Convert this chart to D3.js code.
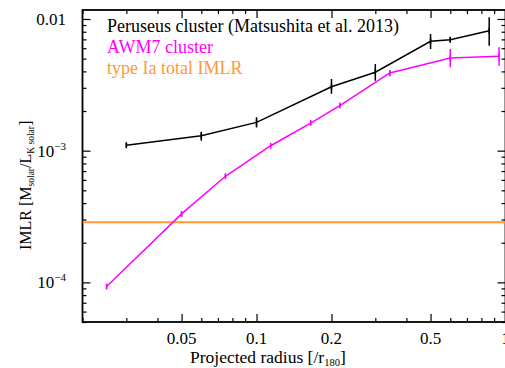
<!DOCTYPE html>
<html>
<head>
<meta charset="utf-8">
<script src="https://cdn.jsdelivr.net/npm/d3@7"></script>
<style>
  body { margin: 0; background: #fff; }
  text { font-family: "Liberation Serif", "Times New Roman", serif; }
</style>
</head>
<body>
<script>
// Perseus cluster (Matsushita et al. 2013)
const perseusR = [0.03, 0.06, 0.1, 0.2, 0.3, 0.5, 0.6, 0.86]
const perseusIMLR = [1.10e-3, 1.30e-3, 1.64e-3, 3.06e-3, 3.94e-3, 6.77e-3, 6.96e-3, 8.15e-3]
const perseusLo = [1.06e-3, 1.19e-3, 1.50e-3, 2.70e-3, 3.40e-3, 5.92e-3, 6.65e-3, 6.27e-3]
const perseusHi = [1.15e-3, 1.39e-3, 1.79e-3, 3.50e-3, 4.55e-3, 7.68e-3, 7.26e-3, 10.3e-3]

// AWM7 cluster
const awm7R = [0.025, 0.05, 0.075, 0.114, 0.165, 0.216, 0.343, 0.6, 0.942]
const awm7IMLR = [9.3e-5, 3.31e-4, 6.39e-4, 1.09e-3, 1.62e-3, 2.20e-3, 3.89e-3, 5.06e-3, 5.21e-3]
const awm7Lo = [8.9e-5, 3.18e-4, 6.2e-4, 1.06e-3, 1.57e-3, 2.13e-3, 3.67e-3, 4.30e-3, 4.42e-3]
const awm7Hi = [9.7e-5, 3.44e-4, 6.6e-4, 1.13e-3, 1.68e-3, 2.28e-3, 4.10e-3, 5.92e-3, 6.10e-3]

// type Ia total IMLR
const typeIaIMLR = 2.86e-4

const xTicks = [0.05, 0.1, 0.2, 0.5, 1]
const xTickLabels = ['0.05', '0.1', '0.2', '0.5', '1']
const yTicks = [1e-4, 1e-3, 1e-2]
const yTickBase = ['10', '10', '0.01']
const yTickExp = ['\u22124', '\u22123', '']

const legendLabels = ['Peruseus cluster (Matsushita et al. 2013)', 'AWM7 cluster', 'type Ia total IMLR']
const colors = ['#000000', '#ff00ff', '#ff9933']

const W = 505, H = 368
const pLeft = 82.5, pRight = 505.5, pTop = 10, pBottom = 322

const svg = d3.select('body').append('svg')
  .attr('width', W)
  .attr('height', H)

const x = d3.scaleLog().domain([0.02, 1]).range([pLeft, pRight])
const y = d3.scaleLog().domain([5e-5, 0.0117]).range([pBottom, pTop])

const minorX = x.ticks().filter(d => !xTicks.some(t => Math.abs(t - d) < 1e-9))
const minorY = y.ticks().filter(d => !yTicks.some(t => Math.abs(t - d) / t < 1e-6))

function addAxis(axisFn, scale, transform, values, size) {
  const g = svg.append('g')
    .attr('transform', transform)
    .call(axisFn(scale).tickValues(values).tickSize(size).tickFormat(''))
  g.select('.domain').remove()
  g.selectAll('line').attr('stroke', '#000').attr('stroke-width', 1.2)
}

// ticks on all four sides, pointing inward
addAxis(d3.axisBottom, x, `translate(0,${pBottom})`, minorX, -4)
addAxis(d3.axisBottom, x, `translate(0,${pBottom})`, xTicks, -8)
addAxis(d3.axisTop, x, `translate(0,${pTop})`, minorX, -4)
addAxis(d3.axisTop, x, `translate(0,${pTop})`, xTicks, -8)
addAxis(d3.axisLeft, y, `translate(${pLeft},0)`, minorY, -4)
addAxis(d3.axisLeft, y, `translate(${pLeft},0)`, yTicks, -8)
addAxis(d3.axisRight, y, `translate(${pRight},0)`, minorY, -4)
addAxis(d3.axisRight, y, `translate(${pRight},0)`, yTicks, -8)

// frame
svg.append('rect')
  .attr('x', pLeft).attr('y', pTop)
  .attr('width', pRight - pLeft).attr('height', pBottom - pTop)
  .attr('fill', 'none').attr('stroke', '#000').attr('stroke-width', 1.8)

// x tick labels
svg.selectAll('.xlab')
  .data(xTicks)
  .enter()
  .append('text')
  .attr('x', d => x(d))
  .attr('y', pBottom + 22)
  .attr('text-anchor', 'middle')
  .attr('font-size', 17)
  .text((d, i) => xTickLabels[i])

// y tick labels
const ylab = svg.selectAll('.ylab')
  .data(yTicks)
  .enter()
  .append('text')
  .attr('x', 66)
  .attr('y', d => y(d) + 6)
  .attr('text-anchor', 'end')
  .attr('font-size', 17)
ylab.append('tspan').text((d, i) => yTickBase[i])
ylab.append('tspan')
  .attr('font-size', 11)
  .attr('dy', -7)
  .text((d, i) => yTickExp[i])

// axis titles
const xt = svg.append('text')
  .attr('x', 190)
  .attr('y', 362.5)
  .attr('font-size', 17.5)
xt.append('tspan').text('Projected radius [/r')
xt.append('tspan').attr('font-size', 10.5).attr('dy', 3).text('180')
xt.append('tspan').attr('dy', -3).text(']')

const yt = svg.append('text')
  .attr('transform', 'translate(31,250) rotate(-90)')
  .attr('font-size', 16)
yt.append('tspan').text('IMLR [M')
yt.append('tspan').attr('font-size', 9.5).attr('dy', 3).text('solar')
yt.append('tspan').attr('dy', -3).text('/L')
yt.append('tspan').attr('font-size', 9.5).attr('dy', 3).text('K solar')
yt.append('tspan').attr('dy', -3).text(']')

// plot area clip
svg.append('clipPath').attr('id', 'clip')
  .append('rect')
  .attr('x', pLeft).attr('y', pTop)
  .attr('width', pRight - pLeft).attr('height', pBottom - pTop)

const plot = svg.append('g').attr('clip-path', 'url(#clip)')

// type Ia line
plot.append('line')
  .attr('x1', pLeft).attr('x2', pRight)
  .attr('y1', y(typeIaIMLR)).attr('y2', y(typeIaIMLR))
  .attr('stroke', colors[2])
  .attr('stroke-width', 2)

function drawSeries(rs, vals, lo, hi, color, width) {
  const pts = rs.map((r, i) => [r, vals[i], lo[i], hi[i]])
  const line = d3.line().x(d => x(d[0])).y(d => y(d[1]))
  plot.append('path')
    .datum(pts)
    .attr('d', line)
    .attr('fill', 'none')
    .attr('stroke', color)
    .attr('stroke-width', width)
  plot.selectAll(null)
    .data(pts)
    .enter()
    .append('line')
    .attr('x1', d => x(d[0])).attr('x2', d => x(d[0]))
    .attr('y1', d => y(d[2])).attr('y2', d => y(d[3]))
    .attr('stroke', color)
    .attr('stroke-width', 1.5)
  // small marker tick at each point
  plot.selectAll(null)
    .data(pts)
    .enter()
    .append('line')
    .attr('x1', d => x(d[0])).attr('x2', d => x(d[0]))
    .attr('y1', d => y(d[1]) - 3).attr('y2', d => y(d[1]) + 3)
    .attr('stroke', color)
    .attr('stroke-width', 1.5)
}

drawSeries(perseusR, perseusIMLR, perseusLo, perseusHi, colors[0], 1.5)
drawSeries(awm7R, awm7IMLR, awm7Lo, awm7Hi, colors[1], 1.5)

// legend
svg.selectAll('.leg')
  .data(legendLabels)
  .enter()
  .append('text')
  .attr('x', 107)
  .attr('y', (d, i) => 32 + i * 21)
  .attr('font-size', 18)
  .attr('fill', (d, i) => colors[i])
  .text(d => d)
</script>
</body>
</html>
